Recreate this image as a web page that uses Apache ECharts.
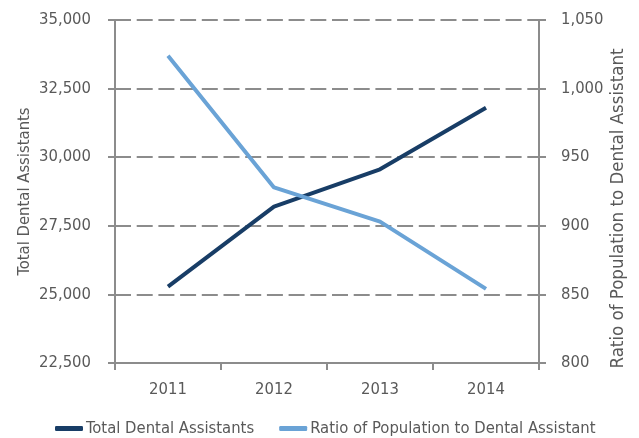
<!DOCTYPE html>
<html>
<head>
<meta charset="utf-8">
<script src="https://cdn.jsdelivr.net/npm/echarts@6/dist/echarts.min.js"></script>
<style>html,body{margin:0;padding:0;background:#fff;}#c{width:639px;height:438px;}</style>
</head>
<body>
<div id="c"></div>
<script>
var categories = ['2011', '2012', '2013', '2014'];
var totalDentalAssistants = [25280, 28200, 29560, 31800];
var ratioPopulation = [1024, 928, 903, 854];
var leftTicks = [22500, 25000, 27500, 30000, 32500, 35000];
var rightTicks = [800, 850, 900, 950, 1000, 1050];

var FONT = "'DejaVu Sans Condensed', 'DejaVu Sans', sans-serif";
var GRAY = '#595959';
var AX = '#8c8c8c';
function fmt(v){ return Number(v).toLocaleString('en-US'); }

var chart = echarts.init(document.getElementById('c'));
chart.setOption({
  animation: false,
  textStyle: { fontFamily: FONT },
  grid: { left: 115, right: 100, top: 20, bottom: 75, containLabel: false, outerBoundsMode: 'none' },
  legend: {
    bottom: -4,
    left: 50,
    itemWidth: 28,
    itemHeight: 5,
    itemGap: 25,
    icon: 'roundRect',
    textStyle: { fontFamily: FONT, fontSize: 16.5, color: GRAY, padding: [0,0,0,-2] },
    data: ['Total Dental Assistants', 'Ratio of Population to Dental Assistant']
  },
  xAxis: {
    type: 'category',
    data: categories,
    boundaryGap: true,
    axisLine: { lineStyle: { color: AX, width: 2 } },
    axisTick: { show: true, length: 7, lineStyle: { color: AX, width: 2 } },
    axisLabel: { fontFamily: FONT, fontSize: 16.5, color: GRAY, margin: 18 }
  },
  yAxis: [
    {
      type: 'value',
      min: leftTicks[0], max: leftTicks[leftTicks.length-1], interval: 2500,
      name: 'Total Dental Assistants',
      nameLocation: 'middle',
      nameGap: 82,
      nameMoveOverlap: false,
      nameTextStyle: { fontFamily: FONT, fontSize: 16.5, color: GRAY },
      axisLine: { show: true, lineStyle: { color: AX, width: 2 } },
      axisTick: { show: true, length: 7, lineStyle: { color: AX, width: 2 } },
      axisLabel: { fontFamily: FONT, fontSize: 16.5, color: GRAY, margin: 24, formatter: fmt },
      splitLine: { show: true, lineStyle: { color: AX, width: 2, type: [16, 5.7] } }
    },
    {
      type: 'value',
      position: 'right',
      min: rightTicks[0], max: rightTicks[rightTicks.length-1], interval: 50,
      name: 'Ratio of Population to Dental Assistant',
      nameLocation: 'middle',
      nameGap: 70,
      nameMoveOverlap: false,
      nameTextStyle: { fontFamily: FONT, fontSize: 18.5, color: GRAY, padding: [0, 34, 0, 0] },
      axisLine: { show: true, lineStyle: { color: AX, width: 2 } },
      axisTick: { show: true, length: 7, lineStyle: { color: AX, width: 2 } },
      axisLabel: { fontFamily: FONT, fontSize: 16.5, color: GRAY, margin: 22, formatter: fmt },
      splitLine: { show: false }
    }
  ],
  series: [
    {
      name: 'Total Dental Assistants',
      type: 'line',
      yAxisIndex: 0,
      data: totalDentalAssistants,
      symbol: 'none',
      itemStyle: { color: '#183d66' },
      lineStyle: { color: '#183d66', width: 4 }
    },
    {
      name: 'Ratio of Population to Dental Assistant',
      type: 'line',
      yAxisIndex: 1,
      data: ratioPopulation,
      symbol: 'none',
      itemStyle: { color: '#6aa3d6' },
      lineStyle: { color: '#6aa3d6', width: 4 }
    }
  ]
});
</script>
</body>
</html>
